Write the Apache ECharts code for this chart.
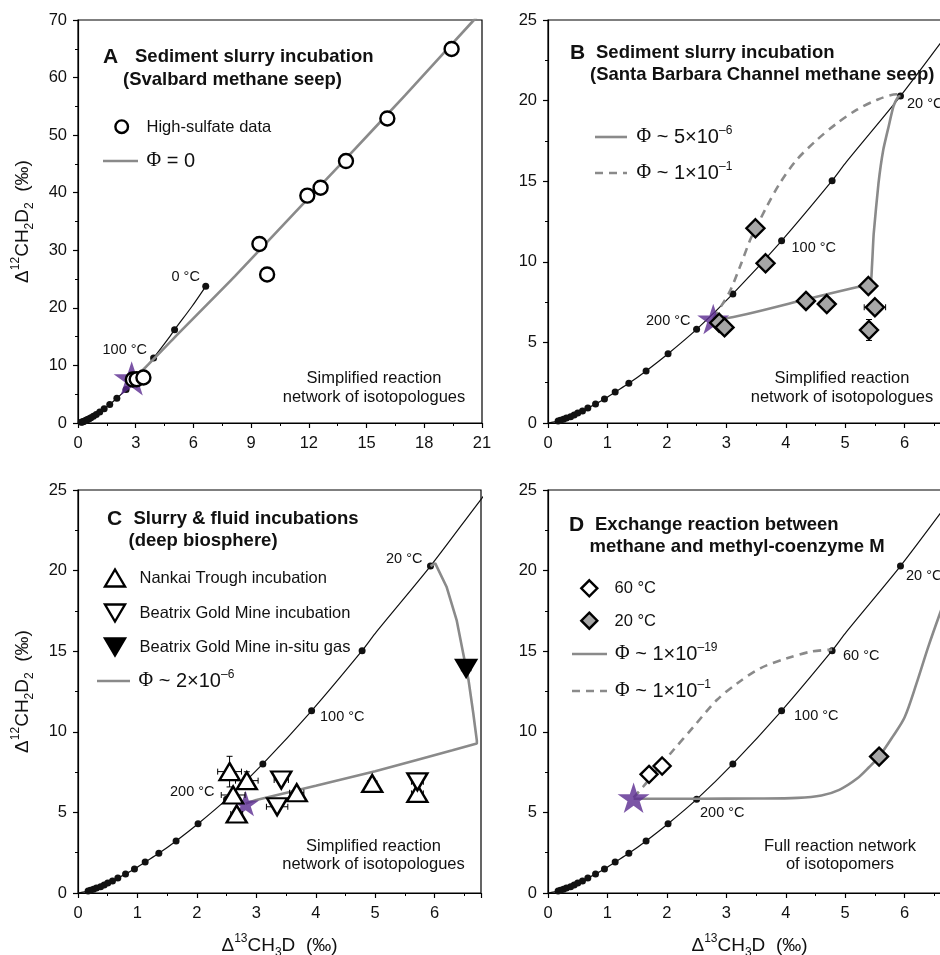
<!DOCTYPE html>
<html><head><meta charset="utf-8">
<script src="https://cdn.jsdelivr.net/npm/echarts@6/dist/echarts.min.js"></script>
<style>html,body{margin:0;padding:0;background:#fff}#c{width:940px;height:955px}</style>
</head><body><div id="c"></div>
<script>
// ---------- data ----------
// equilibrium curve (Δ13CH3D, Δ12CH2D2), from infinite T (origin) to low T
const eqX = [0, 0.17, 0.21, 0.26, 0.31, 0.38, 0.44, 0.50, 0.58, 0.67, 0.80, 0.95, 1.13, 1.36, 1.65, 2.02, 2.50, 3.11, 3.93, 4.78, 5.02, 5.93, 6.64, 7.0];
const eqY = [0, 0.12, 0.17, 0.23, 0.31, 0.39, 0.50, 0.62, 0.75, 0.93, 1.18, 1.49, 1.92, 2.46, 3.23, 4.30, 5.81, 8.01, 11.3, 15.03, 16.2, 20.28, 23.74, 25.5];
const eqDotA   = [0,1,1,1,1,1,1,1,1,1,1,1,1,1,1,1,1,1,1,0,1,0,1];
const eqDotBCD = [0,1,1,1,1,1,1,1,1,1,1,1,1,1,1,1,1,1,1,1,0,1,0,0];

// Panel A
const aCircX = [2.85, 3.05, 3.40, 9.43, 9.83, 11.92, 12.61, 13.93, 16.08, 19.42];
const aCircY = [7.55, 7.60, 7.90, 31.1, 25.8, 39.5, 40.87, 45.5, 52.9, 64.97];
const aPhi0X = [2.79, 3.3, 5.0, 8.16, 11.54, 14.0, 17.0, 20.58, 21.2];
const aPhi0Y = [7.76, 9.0, 14.8, 25.5, 37.5, 46.2, 56.9, 70.0, 72.3];
const aStar = [2.79, 7.76];

// Panel B
const bDiaX = [3.49, 3.66, 2.88, 2.97, 4.34, 4.69, 5.39, 5.50, 5.40];
const bDiaY = [12.08, 9.91, 6.22, 5.93, 7.57, 7.38, 8.50, 7.18, 5.77];
const bDiaXErr = [0, 0, 0, 0, 0, 0, 0, 0.18, 0];
const bDiaYErr = [0, 0, 0, 0.3, 0, 0, 0, 0, 0.65];
const bSolidX = [2.78, 3.0, 4.30, 5.19, 5.42, 5.45, 5.48, 5.56, 5.64, 5.73, 5.81, 5.89, 5.93];
const bSolidY = [6.49, 6.5, 7.63, 8.42, 8.56, 9.70, 11.77, 14.87, 16.94, 18.38, 19.62, 20.24, 20.28];
const bDashX = [2.78, 3.05, 3.23, 3.40, 3.49, 3.68, 3.90, 4.18, 4.52, 4.86, 5.19, 5.53, 5.87, 5.96];
const bDashY = [6.49, 8.1, 9.70, 11.35, 12.04, 13.42, 14.87, 16.31, 17.55, 18.59, 19.42, 20.04, 20.39, 20.36];
const bStar = [2.78, 6.45];

// Panel C
const cUpX = [2.55, 2.84, 2.61, 2.67, 3.68, 4.95, 5.71];
const cUpY = [7.53, 6.97, 6.08, 4.90, 6.22, 6.80, 6.18];
const cUpXErr = [0.2, 0.19, 0.2, 0.1, 0.12, 0.08, 0.1];
const cUpYErr = [0.95, 0.55, 0.3, 0.3, 0.3, 0.3, 0.45];
const cDownX = [3.42, 3.35, 5.71];
const cDownY = [7.01, 5.35, 6.90];
const cDownXErr = [0.12, 0.18, 0.1];
const cDownYErr = [0.3, 0.3, 0.3];
const cGasX = [6.53];
const cGasY = [13.94];
const cGasXErr = [0.08];
const cGasYErr = [0.3];
const cLineX = [2.82, 3.0, 4.0, 5.0, 5.7, 6.3, 6.71, 6.71, 6.68, 6.65, 6.57, 6.48, 6.37, 6.20, 6.01, 5.93];
const cLineY = [5.55, 5.77, 6.65, 7.55, 8.25, 8.85, 9.27, 9.45, 10.3, 11.15, 13.21, 14.87, 16.93, 19.0, 20.45, 20.28];
const cStar = [2.82, 5.55];

// Panel D
const dOpenX = [1.70, 1.92];
const dOpenY = [7.36, 7.88];
const dGrayX = [5.57];
const dGrayY = [8.46];
const dSolidX = [1.44, 2.5, 3.5, 4.2, 4.6, 4.9, 5.2, 5.4, 5.57, 5.8, 6.0, 6.2, 6.4, 6.6, 6.8];
const dSolidY = [5.85, 5.85, 5.86, 5.9, 6.05, 6.4, 7.1, 7.8, 8.46, 9.7, 10.9, 13.0, 15.3, 17.4, 19.4];
const dDashX = [1.44, 1.60, 1.83, 2.11, 2.45, 2.84, 3.18, 3.57, 4.02, 4.42, 4.78];
const dDashY = [5.91, 6.59, 7.63, 8.87, 10.32, 11.97, 13.0, 13.94, 14.56, 14.97, 15.1];
const dStar = [1.44, 5.91];

// axis tick settings
const xMaxA = 21, xIntA = 3, yMaxA = 70, yIntA = 10;
const xMaxB = 6.78, xIntB = 1, yMaxB = 25, yIntB = 5;

// ---------- styling ----------
const FONT = '"Liberation Sans", Arial, sans-serif';
const SERIF = '"Liberation Serif", "Times New Roman", serif';
const INK = '#111';
const GRAY = '#8a8a8a';
const PURPLE = '#5a2a90';
const DIAGRAY = '#a6a6a6';
const STAR = 'path://M0,-1L0.2245,-0.309L0.951,-0.309L0.363,0.118L0.588,0.809L0,0.382L-0.588,0.809L-0.363,0.118L-0.951,-0.309L-0.2245,-0.309Z';

const zip = (xs, ys) => xs.map((x, i) => [x, ys[i]]);

function eqSeries(gi, flags, n) {
  const data = [];
  for (let i = 0; i < n; i++) data.push({ value: [eqX[i], eqY[i]], symbol: flags[i] ? 'circle' : 'none' });
  return { type: 'line', xAxisIndex: gi, yAxisIndex: gi, data, smooth: 0.25, z: 2,
    symbolSize: 7, showSymbol: true, itemStyle: { color: INK },
    lineStyle: { color: INK, width: 1.2 }, silent: true, animation: false };
}
function grayLine(gi, xs, ys, dashed, smooth) {
  return { type: 'line', xAxisIndex: gi, yAxisIndex: gi, data: zip(xs, ys), smooth: smooth, z: 3,
    showSymbol: false, symbol: 'none',
    lineStyle: { color: GRAY, width: 2.6, type: dashed ? [8, 6] : 'solid' }, silent: true };
}
function scatter(gi, xs, ys, symbol, size, fill, z, rot) {
  return { type: 'scatter', xAxisIndex: gi, yAxisIndex: gi, data: zip(xs, ys), symbol, symbolSize: size,
    symbolRotate: rot || 0, z: z || 6,
    itemStyle: { color: fill, borderColor: '#000', borderWidth: 2.4, opacity: 1 }, silent: true };
}
function star(gi, p, size) {
  return { type: 'scatter', xAxisIndex: gi, yAxisIndex: gi, data: [p], symbol: STAR, symbolKeepAspect: true,
    symbolSize: size, z: 4, itemStyle: { color: PURPLE }, silent: true };
}
function errBars(gi, xs, ys, ex, ey) {
  return { type: 'custom', xAxisIndex: gi, yAxisIndex: gi, z: 5, silent: true,
    data: xs.map((x, i) => [x, ys[i], ex[i], ey[i]]),
    renderItem(params, api) {
      const x = api.value(0), y = api.value(1), exv = api.value(2), eyv = api.value(3);
      const ch = [], cap = 3, st = { stroke: '#000', lineWidth: 1 };
      const L = (x1, y1, x2, y2) => ch.push({ type: 'line', shape: { x1, y1, x2, y2 }, style: st });
      if (exv > 0) {
        const a = api.coord([x - exv, y]), b = api.coord([x + exv, y]);
        L(a[0], a[1], b[0], b[1]); L(a[0], a[1] - cap, a[0], a[1] + cap); L(b[0], b[1] - cap, b[0], b[1] + cap);
      }
      if (eyv > 0) {
        const a = api.coord([x, y - eyv]), b = api.coord([x, y + eyv]);
        L(a[0], a[1], b[0], b[1]); L(a[0] - cap, a[1], a[0] + cap, a[1]); L(b[0] - cap, b[1], b[0] + cap, b[1]);
      }
      return { type: 'group', children: ch };
    } };
}

// axes
const nameRich = {
  n: { fontSize: 19, fontFamily: FONT, color: INK, lineHeight: 26 },
  sup: { fontSize: 12, fontFamily: FONT, color: INK, verticalAlign: 'top' },
  sub: { fontSize: 12, fontFamily: FONT, color: INK, verticalAlign: 'bottom' }
};
const yName = '{n|Δ}{sup|12}{n|CH}{sub|2}{n|D}{sub|2}{n|  (‰)}';
const xName = '{n|Δ}{sup|13}{n|CH}{sub|3}{n|D  (‰)}';

function axis(gi, max, interval, isX, name) {
  const a = {
    type: 'value', gridIndex: gi, min: 0, max, interval,
    axisLine: { show: true, onZero: false, lineStyle: { color: '#000', width: 1.2 } },
    axisTick: { show: true, inside: false, length: 5, lineStyle: { color: '#000', width: 1.2 } },
    minorTick: { show: true, splitNumber: 2, length: 3, lineStyle: { color: '#000', width: 1 } },
    splitLine: { show: false }, minorSplitLine: { show: false },
    axisLabel: { fontSize: 16.5, fontFamily: FONT, color: INK, margin: isX ? 12 : 11,
      showMaxLabel: (max % interval) === 0 },
  };
  if (name) {
    a.name = name; a.nameLocation = 'middle'; a.nameGap = isX ? 40 : 42;
    a.nameTextStyle = { rich: nameRich };
  }
  return a;
}

// ---------- graphics (titles, legends, notes) ----------
const G = [];
function txt(x, y, text, size, opt) {
  opt = opt || {};
  G.push({ type: 'text', x, y, silent: true, z: 100,
    style: Object.assign({ text, fontSize: size, fontFamily: FONT, fontWeight: opt.bold ? 'bold' : 'normal',
      fill: INK, align: opt.align || 'left', verticalAlign: 'middle' }, opt.rich ? { rich: opt.rich } : {}) });
}
const phiRich = {
  p: { fontSize: 20, fontFamily: SERIF, color: INK },
  n: { fontSize: 20, fontFamily: FONT, color: INK, lineHeight: 24 },
  s: { fontSize: 12, fontFamily: FONT, color: INK, verticalAlign: 'top' }
};
function phiLabel(x, y, core, sup) {
  txt(x, y, '{p|Φ}{n|' + core + '}' + (sup ? '{s|' + sup + '}' : ''), 20, { rich: phiRich });
}
function lineIcon(x1, x2, y, dashed) {
  G.push({ type: 'line', silent: true, z: 100, shape: { x1, y1: y, x2, y2: y },
    style: { stroke: GRAY, lineWidth: 2.6, lineDash: dashed ? [8, 6] : null } });
}
function polyIcon(points, fill) {
  G.push({ type: 'polygon', silent: true, z: 100, shape: { points },
    style: { fill, stroke: '#000', lineWidth: 2.4 } });
}
function title(lx, ly, letter, l1x, line1, l2x, l2y, line2) {
  txt(lx, ly, letter, 21, { bold: true });
  txt(l1x, ly, line1, 18.5, { bold: true });
  txt(l2x, l2y, line2, 18.5, { bold: true });
}

// Panel A
title(103, 57, 'A', 135, 'Sediment slurry incubation', 123, 80, '(Svalbard methane seep)');
G.push({ type: 'circle', silent: true, z: 100, shape: { cx: 121.7, cy: 126.7, r: 6.3 }, style: { fill: '#fff', stroke: '#000', lineWidth: 2.4 } });
txt(146.5, 127, 'High-sulfate data', 16.5);
lineIcon(103, 138, 161, false);
phiLabel(146.5, 161, ' = 0');
txt(374, 378, 'Simplified reaction', 16.5, { align: 'center' });
txt(374, 397, 'network of isotopologues', 16.5, { align: 'center' });
txt(171.5, 277, '0 °C', 14.5);
txt(102.5, 350, '100 °C', 14.5);

// Panel B
title(570, 53, 'B', 596, 'Sediment slurry incubation', 590, 75, '(Santa Barbara Channel methane seep)');
lineIcon(595, 627, 137, false);
phiLabel(636.5, 137, ' ~ 5×10', '–6');
lineIcon(595, 627, 173, true);
phiLabel(636.5, 173, ' ~ 1×10', '–1');
txt(842, 378, 'Simplified reaction', 16.5, { align: 'center' });
txt(842, 397, 'network of isotopologues', 16.5, { align: 'center' });
txt(907, 104, '20 °C', 14.5);
txt(791.5, 248, '100 °C', 14.5);
txt(646, 321, '200 °C', 14.5);

// Panel C
title(107, 519, 'C', 133.5, 'Slurry & fluid incubations', 128.5, 541, '(deep biosphere)');
polyIcon([[105, 586.5], [125, 586.5], [115, 569.5]], '#fff');
txt(139.5, 578, 'Nankai Trough incubation', 16.5);
polyIcon([[105, 604.5], [125, 604.5], [115, 621.5]], '#fff');
txt(139.5, 613, 'Beatrix Gold Mine incubation', 16.5);
polyIcon([[105, 638.5], [125, 638.5], [115, 655.5]], '#000');
txt(139.5, 647, 'Beatrix Gold Mine in-situ gas', 16.5);
lineIcon(97, 130, 681, false);
phiLabel(138.5, 681, ' ~ 2×10', '–6');
txt(373.5, 846, 'Simplified reaction', 16.5, { align: 'center' });
txt(373.5, 864.5, 'network of isotopologues', 16.5, { align: 'center' });
txt(386, 559, '20 °C', 14.5);
txt(320, 717, '100 °C', 14.5);
txt(170, 792, '200 °C', 14.5);

// Panel D
title(569, 525, 'D', 595, 'Exchange reaction between', 589.5, 547, 'methane and methyl-coenzyme M');
polyIcon([[589.3, 580.3], [597.3, 588.3], [589.3, 596.3], [581.3, 588.3]], '#fff');
txt(614.5, 588, '60 °C', 16.5);
polyIcon([[589.3, 612.7], [597.3, 620.7], [589.3, 628.7], [581.3, 620.7]], DIAGRAY);
txt(614.5, 621, '20 °C', 16.5);
lineIcon(572, 607, 654, false);
phiLabel(615, 654, ' ~ 1×10', '–19');
lineIcon(572, 607, 691, true);
phiLabel(615, 691, ' ~ 1×10', '–1');
txt(840, 846, 'Full reaction network', 16.5, { align: 'center' });
txt(840, 864.5, 'of isotopomers', 16.5, { align: 'center' });
txt(906, 576, '20 °C', 14.5);
txt(843, 656, '60 °C', 14.5);
txt(794, 716, '100 °C', 14.5);
txt(700, 813, '200 °C', 14.5);

// ---------- option ----------
const gridStyle = { show: true, borderColor: '#000', borderWidth: 1.2, backgroundColor: 'transparent', outerBoundsMode: 'none' };
const option = {
  animation: false,
  backgroundColor: '#fff',
  textStyle: { fontFamily: FONT },
  grid: [
    Object.assign({ left: 78, top: 20, width: 404, height: 403 }, gridStyle),
    Object.assign({ left: 548, top: 20, width: 403, height: 403 }, gridStyle),
    Object.assign({ left: 78, top: 490, width: 403, height: 403 }, gridStyle),
    Object.assign({ left: 548, top: 490, width: 403, height: 403 }, gridStyle)
  ],
  xAxis: [
    axis(0, xMaxA, xIntA, true),
    axis(1, xMaxB, xIntB, true),
    axis(2, xMaxB, xIntB, true, xName),
    axis(3, xMaxB, xIntB, true, xName)
  ],
  yAxis: [
    axis(0, yMaxA, yIntA, false, yName),
    axis(1, yMaxB, yIntB, false),
    axis(2, yMaxB, yIntB, false, yName),
    axis(3, yMaxB, yIntB, false)
  ],
  series: [
    // A
    eqSeries(0, eqDotA, 23),
    grayLine(0, aPhi0X, aPhi0Y, false, 0.2),
    star(0, aStar, 36),
    scatter(0, aCircX, aCircY, 'circle', 14, '#fff'),
    // B
    eqSeries(1, eqDotBCD, 24),
    grayLine(1, bDashX, bDashY, true, 0.3),
    grayLine(1, bSolidX, bSolidY, false, 0.15),
    star(1, bStar, 32),
    errBars(1, bDiaX, bDiaY, bDiaXErr, bDiaYErr),
    scatter(1, bDiaX, bDiaY, 'diamond', 18, DIAGRAY),
    // C
    eqSeries(2, eqDotBCD, 24),
    grayLine(2, cLineX, cLineY, false, 0),
    star(2, cStar, 27),
    errBars(2, cUpX, cUpY, cUpXErr, cUpYErr),
    errBars(2, cDownX, cDownY, cDownXErr, cDownYErr),
    errBars(2, cGasX, cGasY, cGasXErr, cGasYErr),
    scatter(2, cUpX, cUpY, 'triangle', [20, 17], '#fff'),
    scatter(2, cDownX, cDownY, 'triangle', [20, 17], '#fff', 6, 180),
    scatter(2, cGasX, cGasY, 'triangle', [20, 17], '#000', 6, 180),
    // D
    eqSeries(3, eqDotBCD, 24),
    grayLine(3, dDashX, dDashY, true, 0.3),
    grayLine(3, dSolidX, dSolidY, false, 0.3),
    star(3, dStar, 32),
    scatter(3, dOpenX, dOpenY, 'diamond', 17, '#fff'),
    scatter(3, dGrayX, dGrayY, 'diamond', 18, DIAGRAY)
  ],
  graphic: G
};
const chart = echarts.init(document.getElementById('c'), null, { renderer: 'canvas' });
chart.setOption(option);
</script>
</body></html>
